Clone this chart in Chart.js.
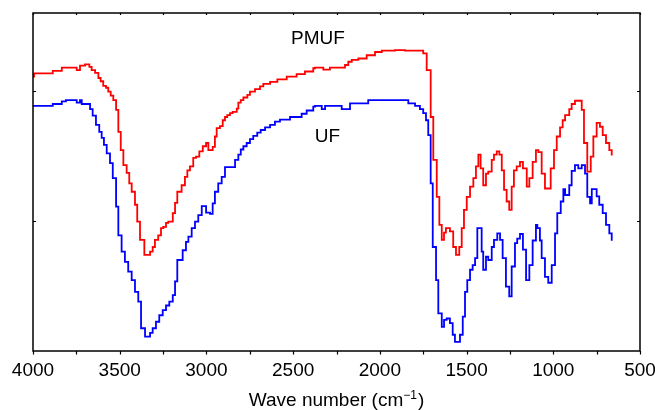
<!DOCTYPE html>
<html><head><meta charset="utf-8">
<script src="https://cdn.jsdelivr.net/npm/chart.js@4.4.1/dist/chart.umd.min.js"></script>
<style>html,body{margin:0;padding:0;background:#fff;}#wrap{width:655px;height:410px;}</style>
</head><body><div id="wrap"><canvas id="c" width="655" height="410"></canvas></div>
<script>
// Wavenumbers (cm^-1) where each step of the PMUF spectrum starts
const wavenumberPMUF = [4000,3994,3886,3834,3748,3729,3700,3675,3662,3642,3623,3610,3595,3579,3566,3552,3537,3521,3508,3494,3479,3460,3445,3431,3412,3399,3383,3358,3325,3310,3297,3278,3262,3249,3233,3220,3194,3181,3168,3143,3124,3110,3095,3076,3060,3041,3021,3002,2989,2964,2951,2941,2922,2906,2893,2880,2864,2849,2825,2816,2802,2787,2764,2749,2720,2691,2672,2633,2591,2537,2480,2432,2384,2374,2326,2288,2201,2182,2162,2124,2076,2028,1989,1913,1855,1750,1730,1707,1692,1672,1657,1643,1630,1619,1596,1577,1561,1542,1528,1515,1499,1480,1461,1446,1432,1419,1404,1388,1375,1355,1342,1326,1311,1297,1284,1269,1254,1240,1227,1211,1192,1175,1153,1138,1119,1100,1086,1067,1048,1015,996,980,961,946,932,908,894,875,836,823,804,784,769,750,731,715,696,677,663,658];
// Transmittance (arbitrary %, offset) of PMUF
const transPMUF = [42.2,42.7,43.1,43.6,43.2,43.9,44.1,43.7,43.2,42.8,42.0,41.5,40.8,40.5,39.9,39.3,38.6,37.1,33.7,30.9,28.6,27.4,25.8,24.5,22.5,19.9,17.1,14.8,15.3,16.0,17.1,17.8,18.9,19.1,19.7,19.9,21.2,22.8,24.5,25.5,26.8,27.8,28.4,29.7,29.9,30.7,31.5,32.0,30.9,31.4,33.0,34.3,34.6,35.5,36.0,36.3,36.6,36.8,37.3,38.2,38.6,39.0,39.4,39.9,40.3,40.7,41.1,41.4,41.8,42.2,42.6,43.0,43.5,43.6,43.3,43.6,44.0,44.5,44.8,45.0,45.5,46.0,46.2,46.3,46.2,45.8,43.2,36.0,29.4,23.7,19.4,17.1,18.2,18.9,18.4,16.0,14.8,16.0,18.9,21.7,23.7,25.3,26.6,28.4,30.2,28.1,25.5,27.3,27.6,29.4,30.2,30.7,30.2,27.8,24.8,23.0,21.7,25.3,27.8,28.4,29.1,28.1,25.3,26.6,29.1,30.9,30.6,27.3,25.0,28.1,30.9,33.0,34.4,35.5,36.3,37.2,38.0,38.5,37.1,32.0,27.6,29.9,33.0,35.1,34.5,33.2,32.0,30.9,30.2,30.2];
// Wavenumbers where each step of the UF spectrum starts
const wavenumberUF = [4000,3886,3834,3810,3748,3729,3719,3671,3656,3637,3618,3604,3591,3575,3556,3540,3521,3508,3489,3470,3451,3431,3412,3393,3377,3354,3325,3310,3291,3272,3252,3233,3214,3194,3181,3168,3137,3118,3104,3085,3066,3047,3027,3002,2979,2964,2951,2932,2912,2893,2835,2816,2802,2787,2768,2749,2730,2707,2687,2662,2633,2605,2576,2518,2451,2422,2384,2374,2335,2316,2220,2172,2067,1836,1797,1769,1750,1734,1721,1707,1695,1676,1663,1643,1630,1615,1596,1580,1567,1538,1522,1509,1496,1480,1465,1451,1438,1413,1404,1388,1375,1355,1342,1323,1307,1292,1273,1254,1240,1221,1208,1192,1175,1157,1138,1119,1100,1092,1077,1067,1048,1029,1009,990,977,957,942,932,908,894,875,856,836,817,804,788,778,750,735,715,696,677,663,658];
// Transmittance of UF
const transUF = [37.7,38.0,38.4,38.6,38.2,38.6,38.0,37.2,36.2,34.8,33.7,32.8,31.7,30.4,28.9,26.6,22.2,17.8,15.3,13.7,12.2,10.9,9.1,7.6,3.5,2.2,2.8,3.5,4.5,5.5,6.3,7.0,7.6,8.6,10.7,14.0,15.5,16.8,17.6,18.9,19.9,20.9,22.3,21.3,21.1,22.7,24.5,25.8,26.8,28.3,29.4,30.2,31.0,31.5,32.0,32.6,33.1,33.6,34.0,34.4,34.8,35.3,35.6,36.0,36.5,37.0,37.6,37.7,37.2,37.7,37.2,38.1,38.6,38.1,37.7,37.2,36.6,35.5,33.2,25.8,16.0,10.9,5.8,3.7,4.8,5.0,4.3,2.5,1.4,2.5,5.3,9.1,10.9,12.5,13.2,14.3,18.9,15.3,12.5,14.5,14.0,16.0,17.1,18.1,17.1,14.3,9.9,8.4,13.0,16.6,17.3,18.0,15.6,10.9,13.2,17.0,19.4,18.9,17.0,14.3,11.4,10.5,13.2,18.1,21.2,23.0,24.9,24.0,25.5,27.7,28.6,28.1,28.6,27.3,23.7,22.7,24.9,23.8,22.5,21.2,19.4,18.1,17.1,17.1];

const xTickLabels = [500,1000,1500,2000,2500,3000,3500,4000];
const xMinorTicks = [3750,3250,2750,2250,1750,1250,750];
const yTicks = [20,40];
const seriesNames = ['PMUF','UF'];
const seriesColors = ['#ff0000','#0000ff'];
const seriesLabelAt = [[2357,47.2],[2302,32.2]];
const xTitle = ['Wave number (cm','\u22121',')'];

const FONT = '"Liberation Sans", Arial, Helvetica, sans-serif';

function pts(xs, ys){ return xs.map((x,i)=>({x:x, y:ys[i]})); }

const framePlugin = {
  id:'frame',
  afterDatasetsDraw(chart){
    const {ctx, chartArea:a, scales:{x,y}} = chart;
    ctx.save();
    ctx.strokeStyle='#000';
    ctx.lineWidth=1.5;
    ctx.strokeRect(a.left, a.top, a.right-a.left, a.bottom-a.top);
    ctx.lineWidth=1.2;
    ctx.beginPath();
    for (const w of xTickLabels.concat(xMinorTicks)) {
      const px = Math.round(x.getPixelForValue(w))+0.5;
      ctx.moveTo(px,a.bottom); ctx.lineTo(px,a.bottom+3.5);
      ctx.moveTo(px,a.top); ctx.lineTo(px,a.top+2);
    }
    for (const v of yTicks) {
      const py = Math.round(y.getPixelForValue(v))+0.5;
      ctx.moveTo(a.left,py); ctx.lineTo(a.left+3,py);
      ctx.moveTo(a.right,py); ctx.lineTo(a.right-3,py);
    }
    ctx.stroke();
    ctx.fillStyle='#000';
    ctx.font='19px '+FONT;
    ctx.textAlign='center';
    ctx.textBaseline='alphabetic';
    seriesNames.forEach((n,i)=>{
      ctx.fillText(n, x.getPixelForValue(seriesLabelAt[i][0]), y.getPixelForValue(seriesLabelAt[i][1]));
    });
    ctx.textAlign='left';
    const f1='19px '+FONT, f2='12px '+FONT;
    ctx.font=f1; const w1=ctx.measureText(xTitle[0]).width, w3=ctx.measureText(xTitle[2]).width;
    ctx.font=f2; const w2=ctx.measureText(xTitle[1]).width;
    const total=w1+w2+1+w3;
    let sx=(a.left+a.right)/2 - total/2;
    const base=406;
    ctx.font=f1; ctx.fillText(xTitle[0], sx, base); sx+=w1;
    ctx.font=f2; ctx.fillText(xTitle[1], sx, base-7.5); sx+=w2+1;
    ctx.font=f1; ctx.fillText(xTitle[2], sx, base);
    ctx.restore();
  }
};

new Chart(document.getElementById('c'), {
  type:'line',
  data:{
    datasets:[
      {label:seriesNames[0], data:pts(wavenumberPMUF, transPMUF), borderColor:seriesColors[0], borderWidth:1.8, pointRadius:0, stepped:true, fill:false},
      {label:seriesNames[1], data:pts(wavenumberUF, transUF), borderColor:seriesColors[1], borderWidth:1.8, pointRadius:0, stepped:true, fill:false}
    ]
  },
  options:{
    responsive:false, animation:false, devicePixelRatio:1,
    layout:{padding:{left:33,right:15,top:13,bottom:0}},
    plugins:{legend:{display:false}, tooltip:{enabled:false}},
    scales:{
      x:{type:'linear', reverse:true, min:500, max:4000,
        afterBuildTicks(s){ s.ticks = xTickLabels.map(v=>({value:v})); },
        afterFit(s){ s.height = 59; s.paddingLeft = 0; s.paddingRight = 0; s.paddingTop = 0; s.paddingBottom = 0; },
        ticks:{padding:8, maxRotation:0, autoSkip:false, color:'#000', font:{family:FONT, size:19}, callback:v=>String(v)},
        grid:{display:false, drawTicks:false}, border:{display:false}},
      y:{display:false, min:0, max:52}
    }
  },
  plugins:[framePlugin]
});
</script>
</body></html>
